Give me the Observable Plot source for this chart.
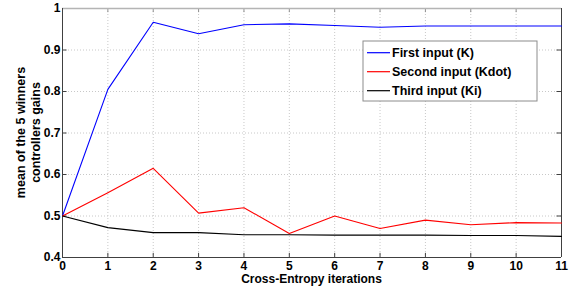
<!DOCTYPE html>
<html>
<head>
<meta charset="utf-8">
<script src="https://cdn.jsdelivr.net/npm/d3@7"></script>
<script src="https://cdn.jsdelivr.net/npm/@observablehq/plot@0.6"></script>
<style>
  html, body { margin: 0; padding: 0; background: #fff; }
  #chart svg { display: block; }
</style>
</head>
<body>
<div id="chart"></div>
<script>
const iterations = [0, 1, 2, 3, 4, 5, 6, 7, 8, 9, 10, 11];
const firstInput  = [0.500, 0.805, 0.967, 0.939, 0.961, 0.963, 0.959, 0.955, 0.958, 0.958, 0.958, 0.958];
const secondInput = [0.500, 0.556, 0.615, 0.507, 0.520, 0.458, 0.500, 0.470, 0.490, 0.479, 0.484, 0.483];
const thirdInput  = [0.500, 0.472, 0.460, 0.460, 0.455, 0.455, 0.454, 0.454, 0.454, 0.453, 0.453, 0.451];
const seriesNames = ["First input (K)", "Second input (Kdot)", "Third input (Ki)"];
const seriesColors = ["#0000ff", "#ff0000", "#000000"];
const xTicks = [0, 1, 2, 3, 4, 5, 6, 7, 8, 9, 10, 11];
const yTicks = [0.4, 0.5, 0.6, 0.7, 0.8, 0.9, 1];

const allSeries = [firstInput, secondInput, thirdInput];
const rows = allSeries.flatMap((vals, i) =>
  iterations.map((x, j) => ({x, y: vals[j], series: seriesNames[i]})));

const font = "'Liberation Sans', Arial, sans-serif";

const chart = Plot.plot({
  width: 574,
  height: 287,
  marginLeft: 62,
  marginRight: 13,
  marginTop: 8,
  marginBottom: 30,
  style: {fontFamily: font, fontSize: "12px", fontWeight: "bold", background: "#fff", color: "#000"},
  x: {domain: [0, 11], ticks: xTicks},
  y: {domain: [0.4, 1], ticks: yTicks},
  color: {domain: seriesNames, range: seriesColors},
  marks: [
    Plot.gridX(xTicks.slice(1, -1), {stroke: "#c8c8c8", strokeOpacity: 1, strokeDasharray: "1,2"}),
    Plot.gridY(yTicks.slice(1, -1), {stroke: "#c8c8c8", strokeOpacity: 1, strokeDasharray: "1,2"}),
    // inward tick marks (bottom, top, left, right)
    Plot.ruleX(xTicks, {x: d => d, y1: 0.4, y2: 0.41, stroke: "#404040"}),
    Plot.ruleX(xTicks, {x: d => d, y1: 1, y2: 0.99, stroke: "#909090"}),
    Plot.ruleY(yTicks, {y: d => d, x1: 0, x2: 0.1, stroke: "#404040"}),
    Plot.ruleY(yTicks, {y: d => d, x1: 11, x2: 10.9, stroke: "#404040"}),
    // box
    Plot.ruleY([1], {stroke: "#b4b4b4", strokeWidth: 1.5}),
    Plot.ruleX([11], {stroke: "#404040"}),
    Plot.ruleX([0], {stroke: "#404040"}),
    Plot.ruleY([0.4], {stroke: "#404040"}),
    Plot.line(rows, {x: "x", y: "y", z: "series", stroke: "series", strokeWidth: 1.1}),
    Plot.axisX(xTicks, {tickSize: 0, tickPadding: 4, label: null, fontSize: 12, fontWeight: "bold", fill: "#000"}),
    Plot.axisY(yTicks, {tickSize: 0, tickPadding: 2, label: null, tickFormat: d => String(d), fontSize: 12, fontWeight: "bold", fill: "#000"})
  ]
});

document.getElementById("chart").appendChild(chart);

const svg = d3.select(chart);
const cx = (62 + 561) / 2;
const cy = (8 + 257) / 2;

// x axis title
svg.append("text")
  .attr("x", cx).attr("y", 283)
  .attr("text-anchor", "middle")
  .style("font-family", font).style("font-size", "12px").style("font-weight", "bold")
  .text("Cross-Entropy iterations");

// y axis title (two lines)
const yTitle = svg.append("text")
  .attr("transform", `translate(0,${cy}) rotate(-90)`)
  .attr("text-anchor", "middle")
  .style("font-family", font).style("font-size", "12.5px").style("font-weight", "bold");
yTitle.append("tspan").attr("x", 0).attr("y", 25).text("mean of the 5 winners");
yTitle.append("tspan").attr("x", 0).attr("y", 40).text("controllers gains");

// legend
const lg = svg.append("g").attr("transform", "translate(363,41)");
lg.append("rect").attr("width", 174).attr("height", 60)
  .attr("fill", "#fff").attr("stroke", "#8c8c8c").attr("stroke-width", 1);
seriesNames.forEach((name, i) => {
  const yy = 11.7 + i * 19;
  lg.append("line").attr("x1", 4).attr("x2", 27).attr("y1", yy).attr("y2", yy)
    .attr("stroke", seriesColors[i]).attr("stroke-width", 1.2);
  lg.append("text").attr("x", 29).attr("y", yy + 4.5)
    .attr("text-anchor", "start")
    .style("font-family", font).style("font-size", "12.5px").style("font-weight", "bold")
    .text(name);
});
</script>
</body>
</html>
